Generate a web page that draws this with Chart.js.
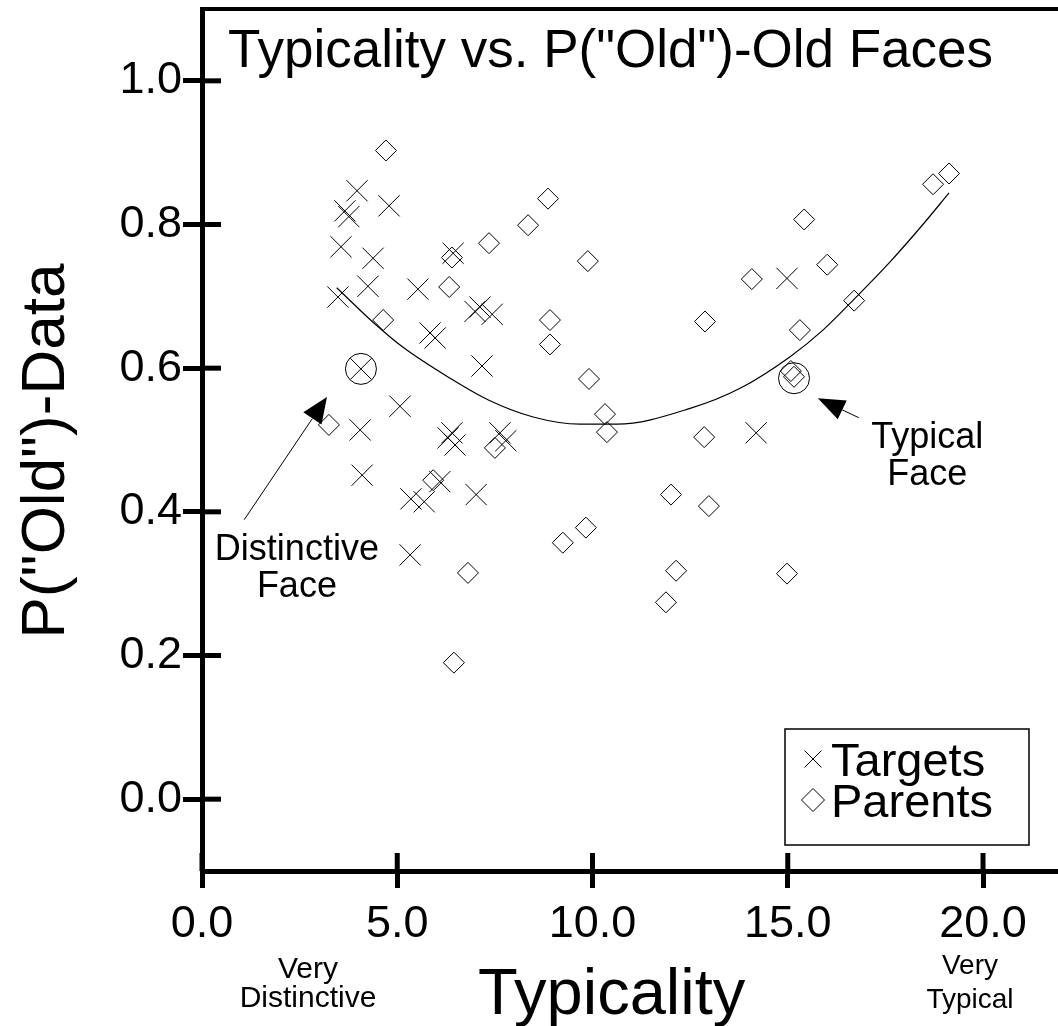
<!DOCTYPE html>
<html>
<head>
<meta charset="utf-8">
<title>Typicality vs. P("Old")-Old Faces</title>
<script src="https://cdn.jsdelivr.net/npm/chart.js@4.4.0/dist/chart.umd.min.js"></script>
<style>
    html, body { margin: 0; padding: 0; background: #fff; }
    #chart { display: block; }
</style>
</head>
<body>
<canvas id="chart" width="1058" height="1026"></canvas>
<script>
// values
const targetX = [3.97, 3.66, 3.76, 4.79, 3.56, 4.38, 6.43, 3.48, 4.25, 5.53, 7.12, 6.99, 7.43, 5.84, 5.97, 7.17,
                 4.07, 4.05, 5.07, 6.40, 6.48, 6.30, 7.63, 7.78, 4.10, 5.35, 5.69, 6.09, 7.02, 5.33, 14.98, 14.19];
const targetY = [0.847, 0.819, 0.811, 0.826, 0.769, 0.753, 0.760, 0.699, 0.714, 0.710, 0.685, 0.679, 0.675, 0.649, 0.642, 0.603,
                 0.599, 0.514, 0.547, 0.510, 0.493, 0.503, 0.510, 0.499, 0.451, 0.418, 0.414, 0.442, 0.424, 0.340, 0.725, 0.510];

const parentX = [4.71, 8.86, 8.35, 7.35, 6.40, 6.33, 9.88, 4.64, 8.91, 8.91, 9.91, 3.25, 7.50, 5.92, 9.24, 9.83, 6.81, 6.45,
                 10.32, 10.37, 12.86, 12.88, 12.01, 12.98, 12.14, 11.88, 14.98, 14.08, 15.42, 16.01, 16.70, 15.31, 15.08, 15.16, 18.72, 19.13];
const parentY = [0.903, 0.836, 0.799, 0.774, 0.754, 0.713, 0.749, 0.667, 0.667, 0.633, 0.585, 0.521, 0.489, 0.444, 0.357, 0.378, 0.315, 0.190,
                 0.536, 0.511, 0.504, 0.665, 0.424, 0.408, 0.318, 0.274, 0.314, 0.724, 0.807, 0.744, 0.694, 0.653, 0.596, 0.588, 0.856, 0.871];

// fitted curve, read at a few places along the drawn line
const fitX = [3.45, 3.87, 4.38, 5.15, 6.35, 7.32, 8.48, 9.68, 10.63, 12.50, 13.78, 15.06, 15.90, 16.77, 17.62, 18.46, 19.13];
const fitY = [0.712, 0.690, 0.664, 0.629, 0.586, 0.556, 0.532, 0.522, 0.522, 0.544, 0.572, 0.616, 0.653, 0.700, 0.748, 0.800, 0.844];

// the two circled example faces
const circledX = [4.07, 15.16];
const circledY = [0.599, 0.586];

const xTicks = [0, 5, 10, 15, 20];
const yTicks = [0, 0.2, 0.4, 0.6, 0.8, 1.0];

const FONT = "'Liberation Sans', Arial, Helvetica, sans-serif";

const pts = (xs, ys) => xs.map((x, i) => ({ x: x, y: ys[i] }));

function drawArrow(ctx, x1, y1, x2, y2, headLen, headHalf) {
    const ang = Math.atan2(y2 - y1, x2 - x1);
    const bx = x2 - Math.cos(ang) * headLen;
    const by = y2 - Math.sin(ang) * headLen;
    ctx.beginPath();
    ctx.moveTo(x1, y1);
    ctx.lineTo(bx, by);
    ctx.lineWidth = 1;
    ctx.stroke();
    ctx.beginPath();
    ctx.moveTo(x2, y2);
    ctx.lineTo(bx + Math.sin(ang) * headHalf, by - Math.cos(ang) * headHalf);
    ctx.lineTo(bx - Math.sin(ang) * headHalf, by + Math.cos(ang) * headHalf);
    ctx.closePath();
    ctx.fill();
}

// keep the plot area where the original has it: no extra room for end labels
function noPadding(s) {
    s.paddingTop = 0;
    s.paddingBottom = 0;
    s.paddingLeft = 0;
    s.paddingRight = 0;
}

const framePlugin = {
    id: 'frame',
    afterDraw(chart) {
        const { ctx, chartArea: a, scales: { x, y } } = chart;
        ctx.save();
        ctx.strokeStyle = '#000';
        ctx.fillStyle = '#000';

        // top edge of the frame
        ctx.lineWidth = 4;
        ctx.beginPath();
        ctx.moveTo(a.left - 2, a.top);
        ctx.lineTo(a.right, a.top);
        ctx.stroke();

        // inner half of the tick marks (ticks cross the axes)
        ctx.lineWidth = 5;
        x.ticks.forEach(t => {
            const px = x.getPixelForValue(t.value);
            ctx.beginPath();
            ctx.moveTo(px, a.bottom);
            ctx.lineTo(px, a.bottom - 18);
            ctx.stroke();
        });
        y.ticks.forEach(t => {
            const py = y.getPixelForValue(t.value);
            ctx.beginPath();
            ctx.moveTo(a.left, py);
            ctx.lineTo(a.left + 19, py);
            ctx.stroke();
        });

        // title inside the frame
        ctx.textBaseline = 'alphabetic';
        ctx.textAlign = 'left';
        ctx.font = '53px ' + FONT;
        ctx.fillText('Typicality vs. P("Old")-Old Faces', a.left + 26, 67);

        // axis titles
        ctx.font = '65px ' + FONT;
        ctx.fillText('Typicality', 478, 1014);
        ctx.save();
        ctx.translate(47, 451);
        ctx.rotate(-Math.PI / 2);
        ctx.textAlign = 'center';
        ctx.textBaseline = 'middle';
        ctx.font = '62px ' + FONT;
        ctx.fillText('P("Old")-Data', 0, 0);
        ctx.restore();

        // scale end notes
        ctx.textAlign = 'center';
        ctx.font = '30px ' + FONT;
        ctx.fillText('Very', 308, 978);
        ctx.fillText('Distinctive', 308, 1007);
        ctx.font = '28px ' + FONT;
        ctx.fillText('Very', 970, 974);
        ctx.fillText('Typical', 970, 1008);

        // annotations, anchored in data units
        ctx.font = '36px ' + FONT;
        ctx.fillText('Distinctive', x.getPixelForValue(2.43), y.getPixelForValue(0.333));
        ctx.fillText('Face', x.getPixelForValue(2.43), y.getPixelForValue(0.282));
        ctx.fillText('Typical', x.getPixelForValue(18.57), y.getPixelForValue(0.489));
        ctx.fillText('Face', x.getPixelForValue(18.57), y.getPixelForValue(0.438));

        drawArrow(ctx, x.getPixelForValue(1.08), y.getPixelForValue(0.389),
                  x.getPixelForValue(3.20), y.getPixelForValue(0.560), 26, 11);
        drawArrow(ctx, x.getPixelForValue(16.82), y.getPixelForValue(0.531),
                  x.getPixelForValue(15.77), y.getPixelForValue(0.558), 27, 10.5);

        // legend box, bottom right
        const bx = a.right - 273, by = a.bottom - 142;
        ctx.fillStyle = '#fff';
        ctx.fillRect(bx, by, 244, 116);
        ctx.lineWidth = 1.5;
        ctx.strokeRect(bx, by, 244, 116);
        ctx.fillStyle = '#000';
        ctx.textAlign = 'left';
        ctx.font = '47px ' + FONT;
        const entries = chart.data.datasets.filter(d => d.inLegend);
        entries.forEach((d, i) => {
            const cy = by + 30 + i * 41;
            ctx.save();
            ctx.fillStyle = 'rgba(0,0,0,0)';
            ctx.lineWidth = 1;
            Chart.helpers.drawPoint(ctx, {
                pointStyle: d.pointStyle,
                radius: d.legendRadius,
                rotation: 0,
                borderWidth: 1
            }, bx + 28, cy);
            ctx.restore();
            ctx.fillText(d.label, bx + 46, cy + 17);
        });
        ctx.restore();
    }
};

new Chart(document.getElementById('chart'), {
    type: 'scatter',
    data: {
        datasets: [
            {
                type: 'line',
                label: 'Fit',
                data: pts(fitX, fitY),
                borderColor: '#000',
                borderWidth: 1.2,
                pointRadius: 0,
                fill: false,
                cubicInterpolationMode: 'monotone'
            },
            {
                label: 'Targets',
                inLegend: true,
                legendRadius: 12,
                data: pts(targetX, targetY),
                pointStyle: 'crossRot',
                pointRadius: 15,
                borderColor: '#000',
                borderWidth: 1,
                backgroundColor: 'rgba(0,0,0,0)'
            },
            {
                label: 'Parents',
                inLegend: true,
                legendRadius: 11.5,
                data: pts(parentX, parentY),
                pointStyle: 'rectRot',
                pointRadius: 10.5,
                borderColor: '#000',
                borderWidth: 1,
                backgroundColor: 'rgba(0,0,0,0)'
            },
            {
                label: 'Circled',
                data: pts(circledX, circledY),
                pointStyle: 'circle',
                pointRadius: 15.5,
                borderColor: '#000',
                borderWidth: 1,
                backgroundColor: 'rgba(0,0,0,0)'
            }
        ]
    },
    options: {
        responsive: false,
        animation: false,
        devicePixelRatio: 1,
        layout: { autoPadding: false, padding: { left: 0, right: 0, top: 9, bottom: 0 } },
        plugins: {
            legend: { display: false },
            title: { display: false },
            tooltip: { enabled: false }
        },
        scales: {
            x: {
                type: 'linear',
                min: 0,
                max: 21.92,
                afterFit: s => { s.height = 155; noPadding(s); },
                afterBuildTicks: s => { s.ticks = xTicks.map(v => ({ value: v })); },
                border: { display: true, color: '#000', width: 5 },
                grid: { drawOnChartArea: false, drawTicks: true, tickLength: 17, tickWidth: 5, tickColor: '#000', color: '#000' },
                ticks: {
                    color: '#000',
                    padding: 10,
                    maxRotation: 0,
                    font: { family: FONT, size: 45 },
                    callback: v => v.toFixed(1)
                }
            },
            y: {
                type: 'linear',
                min: -0.1,
                max: 1.1,
                afterFit: s => { s.width = 202; noPadding(s); },
                afterBuildTicks: s => { s.ticks = yTicks.map(v => ({ value: v })); },
                border: { display: true, color: '#000', width: 5 },
                grid: { drawOnChartArea: false, drawTicks: true, tickLength: 19, tickWidth: 5, tickColor: '#000', color: '#000' },
                ticks: {
                    color: '#000',
                    padding: 1,
                    font: { family: FONT, size: 45 },
                    callback: v => v.toFixed(1)
                }
            }
        }
    },
    plugins: [framePlugin]
});
</script>
</body>
</html>
